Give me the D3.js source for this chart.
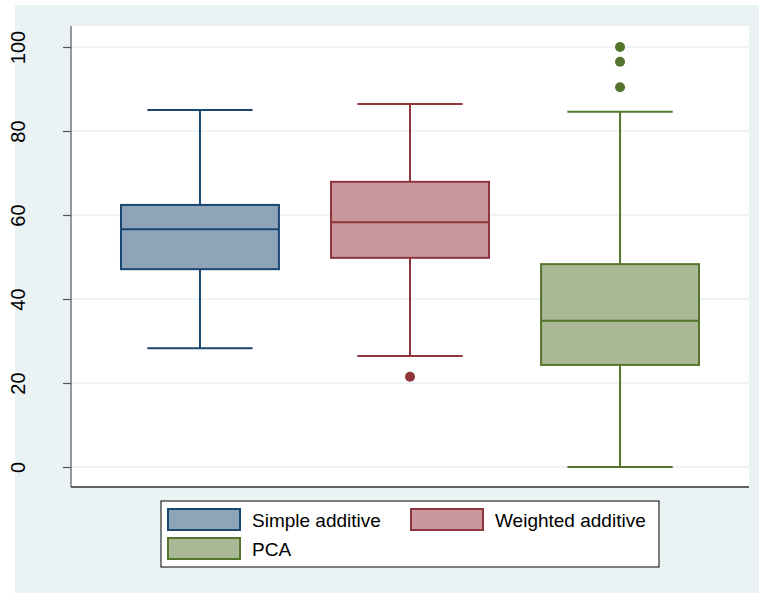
<!DOCTYPE html>
<html>
<head>
<meta charset="utf-8">
<script src="https://cdn.jsdelivr.net/npm/d3@7"></script>
<style>
  html, body { margin: 0; padding: 0; background: #ffffff; }
  svg { display: block; font-family: "Liberation Sans", Arial, sans-serif; }
</style>
</head>
<body>
<svg id="chart" width="759" height="593"></svg>
<script>
// Index scores by construction method
const categories = ["Simple additive", "Weighted additive", "PCA"];
const lowerWhisker = [28.3, 26.4, 0];
const q1 = [47.1, 49.8, 24.3];
const median = [56.6, 58.3, 34.8];
const q3 = [62.4, 67.9, 48.3];
const upperWhisker = [85.0, 86.4, 84.6];
const outliers = [[], [21.5], [100, 96.5, 90.4]];
const yTicks = [0, 20, 40, 60, 80, 100];

const strokeColors = ["#1a476f", "#90353b", "#55752f"];
const fillColors = ["#8ea4b8", "#c8989c", "#aab995"];

const svg = d3.select("#chart");

// Outer graph region
svg.append("rect").attr("x", 15).attr("y", 5).attr("width", 744).attr("height", 588)
  .attr("fill", "#eaf2f3");

const plot = { left: 71, right: 749, top: 26, bottom: 487 };
svg.append("rect").attr("x", plot.left).attr("y", plot.top)
  .attr("width", plot.right - plot.left).attr("height", plot.bottom - plot.top)
  .attr("fill", "#ffffff");

const x = d3.scaleBand().domain(categories).range([plot.left, plot.right])
  .paddingInner(0.248).paddingOuter(0.238);
const y = d3.scaleLinear().domain([0, 100]).range([467, 47]);

// Gridlines
svg.append("g").selectAll("line").data(yTicks).join("line")
  .attr("x1", plot.left).attr("x2", plot.right)
  .attr("y1", d => y(d)).attr("y2", d => y(d))
  .attr("stroke", "#eaf2f3").attr("stroke-width", 1.5);

// Y axis
const yAxis = d3.axisLeft(y).tickValues(yTicks).tickSize(8).tickPadding(6);
const gy = svg.append("g").attr("transform", `translate(${plot.left},0)`).call(yAxis);
gy.select(".domain").attr("d", `M0,${plot.top}V${plot.bottom}`).attr("stroke", "#555").attr("stroke-width", 1.2);
gy.selectAll(".tick line").attr("stroke", "#555").attr("stroke-width", 1.2);
gy.selectAll(".tick text")
  .attr("font-size", 20).attr("fill", "#000")
  .attr("text-anchor", "middle")
  .attr("x", null).attr("dy", null)
  .attr("transform", "translate(-46,0) rotate(-90)")
  .attr("y", 0);

// X axis line
svg.append("line").attr("x1", plot.left).attr("x2", plot.right)
  .attr("y1", plot.bottom).attr("y2", plot.bottom)
  .attr("stroke", "#333").attr("stroke-width", 1.5);

// Boxes
const boxes = svg.append("g").selectAll("g").data(categories).join("g");
boxes.each(function(c, i) {
  const g = d3.select(this);
  const cx = x(c) + x.bandwidth() / 2;
  const bw = x.bandwidth();
  const capHalf = bw / 3;
  const col = strokeColors[i];
  // whiskers
  g.append("line").attr("x1", cx).attr("x2", cx)
    .attr("y1", y(q3[i])).attr("y2", y(upperWhisker[i]))
    .attr("stroke", col).attr("stroke-width", 2);
  g.append("line").attr("x1", cx).attr("x2", cx)
    .attr("y1", y(q1[i])).attr("y2", y(lowerWhisker[i]))
    .attr("stroke", col).attr("stroke-width", 2);
  g.append("line").attr("x1", cx - capHalf).attr("x2", cx + capHalf)
    .attr("y1", y(upperWhisker[i])).attr("y2", y(upperWhisker[i]))
    .attr("stroke", col).attr("stroke-width", 2);
  g.append("line").attr("x1", cx - capHalf).attr("x2", cx + capHalf)
    .attr("y1", y(lowerWhisker[i])).attr("y2", y(lowerWhisker[i]))
    .attr("stroke", col).attr("stroke-width", 2);
  // box
  g.append("rect").attr("x", x(c)).attr("width", bw)
    .attr("y", y(q3[i])).attr("height", y(q1[i]) - y(q3[i]))
    .attr("fill", fillColors[i]).attr("stroke", col).attr("stroke-width", 2);
  g.append("line").attr("x1", x(c)).attr("x2", x(c) + bw)
    .attr("y1", y(median[i])).attr("y2", y(median[i]))
    .attr("stroke", col).attr("stroke-width", 2);
  // outliers
  g.selectAll("circle").data(outliers[i]).join("circle")
    .attr("cx", cx).attr("cy", d => y(d)).attr("r", 5)
    .attr("fill", col);
});

// Legend
const legend = svg.append("g");
legend.append("rect").attr("x", 161).attr("y", 501).attr("width", 498).attr("height", 66)
  .attr("fill", "#ffffff").attr("stroke", "#000").attr("stroke-width", 1);
const legendPos = [[168, 509], [411, 509], [168, 538]];
categories.forEach((c, i) => {
  const [lx, ly] = legendPos[i];
  legend.append("rect").attr("x", lx).attr("y", ly).attr("width", 72).attr("height", 21)
    .attr("fill", fillColors[i]).attr("stroke", strokeColors[i]).attr("stroke-width", 2);
  legend.append("text").attr("x", lx + 84).attr("y", ly + 18)
    .attr("font-size", 19).attr("fill", "#000").text(c);
});
</script>
</body>
</html>
